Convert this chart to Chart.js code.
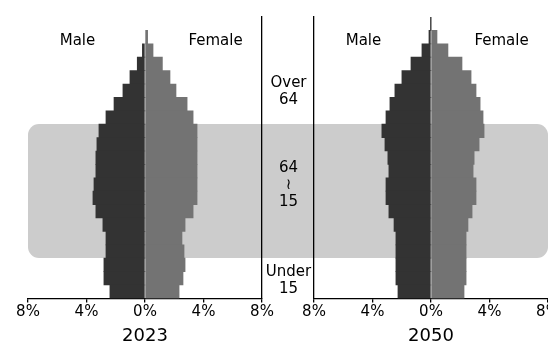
<!DOCTYPE html>
<html>
<head>
<meta charset="utf-8">
<script src="https://cdn.jsdelivr.net/npm/chart.js@4/dist/chart.umd.min.js"></script>
<style>
  body { margin: 0; background: #fff; }
  #wrap { position: relative; width: 548px; height: 342px; overflow: hidden; font-family: "DejaVu Sans", sans-serif; }
  #band { position: absolute; left: 28px; width: 520px; background: #cccccc; border-radius: 11px; }
  canvas { position: absolute; top: 0; }
  .mid { position: absolute; left: 258px; width: 61px; text-align: center; font-size: 15px; line-height: 17px; color: #000; }
</style>
</head>
<body>
<div id="wrap">
  <div id="band"></div>
  <canvas id="left" width="290" height="360" style="left:0px;width:290px;height:360px"></canvas>
  <canvas id="right" width="290" height="360" style="left:290px;width:290px;height:360px"></canvas>
  <div class="mid" style="top:74px">Over<br>64</div>
  <div class="mid" style="top:159px">64<br>≀<br>15</div>
  <div class="mid" style="top:263px">Under<br>15</div>
</div>
<script>
// age groups, top row first
const ages = ['100+','95-99','90-94','85-89','80-84','75-79','70-74','65-69','60-64','55-59',
              '50-54','45-49','40-44','35-39','30-34','25-29','20-24','15-19','10-14','5-9','0-4'];

// share of population in %
const male2023   = [0, 0, 0.18, 0.53, 1.03, 1.51, 2.12, 2.67, 3.15, 3.29, 3.36, 3.36, 3.49, 3.56, 3.36, 2.88, 2.67, 2.67, 2.81, 2.81, 2.40];
const female2023 = [0, 0.18, 0.55, 1.19, 1.71, 2.12, 2.88, 3.29, 3.56, 3.56, 3.56, 3.56, 3.56, 3.56, 3.29, 2.74, 2.53, 2.67, 2.74, 2.60, 2.33];
const male2050   = [0.03, 0.14, 0.62, 1.37, 1.99, 2.47, 2.81, 3.08, 3.36, 3.15, 2.95, 2.88, 3.08, 3.08, 2.88, 2.53, 2.40, 2.40, 2.40, 2.40, 2.26];
const female2050 = [0.04, 0.41, 1.16, 2.12, 2.74, 3.08, 3.36, 3.56, 3.63, 3.29, 2.95, 2.88, 3.08, 3.08, 2.81, 2.53, 2.40, 2.40, 2.40, 2.40, 2.26];

const xTicks = [-8, -4, 0, 4, 8];
const band = ['60-64', '15-19'];   // working-age rows shaded
const FONT = 'DejaVu Sans';

// Male / Female headings
const sexLabels = {
    id: 'sexLabels',
    afterDraw(chart) {
        let ctx = chart.ctx;
        let x = chart.scales.x;
        let top = chart.chartArea.top;
        ctx.save();
        ctx.font = '15px "' + FONT + '"';
        ctx.fillStyle = '#000';
        ctx.textAlign = 'center';
        ctx.textBaseline = 'middle';
        ctx.fillText('Male', x.getPixelForValue(0) - 67.5, top + 24);
        ctx.fillText('Female', x.getPixelForValue(0) + 70.5, top + 24);
        ctx.restore();
    }
};

let makePyramid = function (id, year, male, female, side, pad) {
    // empty rows should not leave a hairline
    let inflate = c => (c.raw === 0 ? 0 : 'auto');
    return new Chart(document.getElementById(id), {
        type: 'bar',
        data: {
            labels: ages,
            datasets: [
                { label: 'Male', data: male.map(v => -v), backgroundColor: '#333333', borderWidth: 0, inflateAmount: inflate },
                { label: 'Female', data: female, backgroundColor: '#737373', borderWidth: 0, inflateAmount: inflate }
            ]
        },
        options: {
            indexAxis: 'y',
            responsive: false,
            animation: false,
            barPercentage: 1,
            categoryPercentage: 1,
            layout: { padding: { top: 17, bottom: 13, left: pad[0], right: pad[1] } },
            plugins: { legend: { display: false }, tooltip: { enabled: false } },
            scales: {
                x: {
                    stacked: true,
                    min: -8,
                    max: 8,
                    afterBuildTicks: axis => { axis.ticks = xTicks.map(v => ({ value: v })); },
                    grid: { drawOnChartArea: false, drawTicks: true, tickLength: 4, color: '#000', lineWidth: 1.3 },
                    border: { display: true, color: '#000', width: 1.3 },
                    ticks: {
                        color: '#000', padding: 1, maxRotation: 0,
                        font: { family: FONT, size: 15 },
                        callback: v => Math.abs(v) + '%'
                    },
                    title: { display: true, text: year, color: '#000', font: { family: FONT, size: 18 }, padding: { top: 3, bottom: 0 } }
                },
                y: {
                    stacked: true,
                    position: side,
                    grid: { display: false, drawTicks: false },
                    ticks: { display: false },
                    border: { display: true, color: '#000', width: 1.3 }
                }
            }
        },
        plugins: [sexLabels]
    });
};

const left = makePyramid('left', '2023', male2023, female2023, 'right', [28, 28]);
const right = makePyramid('right', '2050', male2050, female2050, 'left', [24, 32]);

// shade the 15-64 rows across both pyramids
let y = left.scales.y;
let half = (y.getPixelForValue(1) - y.getPixelForValue(0)) / 2;
let b = document.getElementById('band');
let bTop = y.getPixelForValue(ages.indexOf(band[0])) - half;
let bBot = y.getPixelForValue(ages.indexOf(band[1])) + half;
b.style.top = bTop + 'px';
b.style.height = (bBot - bTop) + 'px';
</script>
</body>
</html>
